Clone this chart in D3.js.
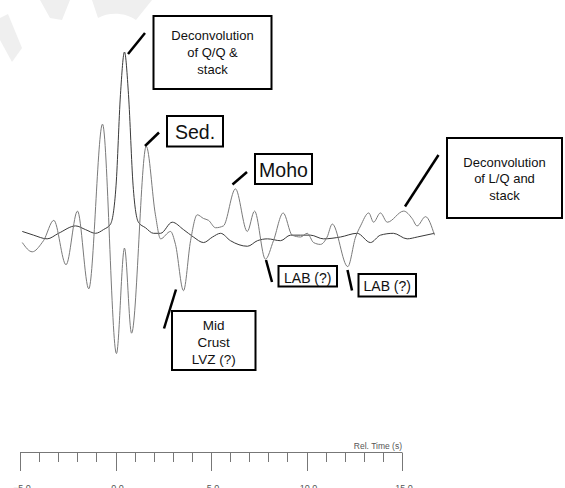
<!DOCTYPE html>
<html>
<head>
<meta charset="utf-8">
<script src="https://cdn.jsdelivr.net/npm/d3@7/dist/d3.min.js"></script>
<style>
  html, body { margin: 0; padding: 0; background: #fff; }
  svg { display: block; font-family: "Liberation Sans", Arial, sans-serif; }
</style>
</head>
<body>
<svg id="chart" width="565" height="488"></svg>
<script>
// ---- Data (time in s, normalized amplitude) ----
const lqTime = [-4.88,-4.36,-3.84,-3.77,-3.23,-2.59,-1.99,-1.40,-0.68,0.05,0.47,0.84,1.61,2.09,2.36,2.88,3.14,3.56,3.93,4.28,4.61,4.87,5.24,5.65,6.28,6.90,7.28,7.85,8.27,8.78,9.25,9.69,10.04,10.37,10.73,11.08,11.35,12.16,12.57,12.83,13.26,13.51,13.87,14.23,15.09,15.53,15.79,16.23,16.70];
const lqAmp  = [-0.03,-0.08,-0.03,-0.02,0.09,-0.15,0.14,-0.28,0.61,-0.63,-0.06,-0.52,0.49,0.12,-0.01,0.03,-0.04,-0.29,-0.02,0.12,0.10,0.09,0.05,0.06,0.26,0.03,0.14,-0.12,-0.02,0.13,0.01,0.00,0.02,-0.03,-0.04,0.00,0.07,-0.16,0.00,0.06,0.13,0.08,0.13,0.08,0.14,0.10,0.06,0.11,0.01];

const qqTime = [-4.88,-4.29,-3.58,-2.98,-2.09,-1.57,-1.05,-0.63,-0.26,0.03,0.26,0.47,0.68,0.92,1.20,1.57,1.99,2.36,2.97,3.56,4.08,4.61,5.08,5.50,6.02,6.91,7.43,7.96,8.64,9.16,9.69,10.21,10.89,11.78,12.65,13.35,13.87,14.55,15.27,15.80,16.70];
const qqAmp  = [0.03,0.01,-0.01,0.02,0.06,0.04,0.02,0.04,0.07,0.28,0.77,1.00,0.77,0.28,0.08,0.05,0.02,0.02,0.08,0.04,0.00,-0.03,0.00,0.02,-0.02,-0.05,-0.02,-0.01,-0.02,0.01,0.01,0.01,-0.01,0.00,0.02,-0.03,0.01,0.02,-0.01,0.00,0.02];

const majorTicks = [-5, 0, 5, 10, 15];
const tickLabels = ["\u22125.0", "0.0", "5.0", "10.0", "15.0"];
const minorTicks = d3.range(-5, 15.01, 1);
const axisTitle = "Rel. Time (s)";

const annotations = [
  { lines: ["Deconvolution", "of Q/Q &", "stack"], at: 0.47 },
  { lines: ["Sed."], at: 1.61 },
  { lines: ["Moho"], at: 6.28 },
  { lines: ["Deconvolution", "of L/Q and", "stack"], at: 15.09 },
  { lines: ["LAB (?)"], at: 7.85 },
  { lines: ["LAB (?)"], at: 12.16 },
  { lines: ["Mid", "Crust", "LVZ (?)"], at: 3.56 }
];

// ---- Layout (styles/positions) ----
const svg = d3.select("#chart");

// faint background watermark (decorative)
const wm = svg.append("g").attr("fill", "#efefef");
wm.append("path").attr("d", "M0,18 L8,14 L22,48 L12,62 L0,40 Z");
wm.append("path").attr("d", "M40,0 L70,0 L62,20 L50,18 Z");
wm.append("path").attr("d", "M92,0 L152,0 L136,20 C125,12 108,12 98,18 Z");

const x = d3.scaleLinear().domain([-5, 15]).range([20, 402]);
const y = d3.scaleLinear().domain([-1, 1]).range([422, 52]);

const line = d3.line().x(d => x(d[0])).y(d => y(d[1])).curve(d3.curveMonotoneX);

svg.append("path")
  .datum(qqTime.map((t, i) => [t, qqAmp[i]]))
  .attr("d", line).attr("fill", "none")
  .attr("stroke", "#3a3a3a").attr("stroke-width", 1);

svg.append("path")
  .datum(lqTime.map((t, i) => [t, lqAmp[i]]))
  .attr("d", line).attr("fill", "none")
  .attr("stroke", "#7a7a7a").attr("stroke-width", 1);

// ---- Axis ----
const axisY = 452.5;
const ax = svg.append("g").attr("transform", `translate(0,${axisY})`);
ax.append("line").attr("x1", x(-5)).attr("x2", x(15)).attr("y1", 0).attr("y2", 0)
  .attr("stroke", "#777").attr("stroke-width", 1);
ax.selectAll("line.minor").data(minorTicks).join("line")
  .attr("class", "minor")
  .attr("x1", d => Math.round(x(d)) + 0.5).attr("x2", d => Math.round(x(d)) + 0.5)
  .attr("y1", 0).attr("y2", d => (majorTicks.includes(d) ? 18.5 : 9.5))
  .attr("stroke", "#777").attr("stroke-width", 1);
ax.selectAll("text.tl").data(majorTicks).join("text")
  .attr("class", "tl")
  .attr("x", d => x(d) + 2).attr("y", 38.5)
  .attr("text-anchor", "middle")
  .attr("font-size", 9).attr("fill", "#555")
  .text((d, i) => tickLabels[i]);
ax.append("text").attr("x", x(15)).attr("y", -4)
  .attr("text-anchor", "end").attr("font-size", 8.5).attr("fill", "#555")
  .text(axisTitle);

// ---- Annotation boxes ----
const boxGeom = [
  { x0: 153.5, y0: 16, x1: 271.5, y1: 89, fs: 13, base: 40, lh: 17, lw: [145, 33, 128, 54] },
  { x0: 167, y0: 116, x1: 223, y1: 146.5, fs: 19.5, base: 138.5, lh: 0, lw: [159, 132.5, 145, 146] },
  { x0: 255, y0: 154, x1: 312, y1: 184, fs: 19.5, base: 176.5, lh: 0, lw: [247, 172, 232.5, 184.5] },
  { x0: 447, y0: 138, x1: 562, y1: 218, fs: 13, base: 166.5, lh: 16.5, lw: [438.5, 155, 405, 206.5] },
  { x0: 278.5, y0: 266, x1: 337, y1: 286.5, fs: 14, base: 282.5, lh: 0, lw: [266, 260, 272, 282] },
  { x0: 358.5, y0: 274, x1: 416, y1: 296.5, fs: 14, base: 290.5, lh: 0, lw: [347.5, 270, 352, 290.5] },
  { x0: 172, y0: 311, x1: 255.5, y1: 370, fs: 13.5, base: 329.5, lh: 17, lw: [176, 289.5, 164, 328.5] }
];

const g = svg.append("g");
annotations.forEach((a, i) => {
  const b = boxGeom[i];
  g.append("line")
    .attr("x1", b.lw[0]).attr("y1", b.lw[1]).attr("x2", b.lw[2]).attr("y2", b.lw[3])
    .attr("stroke", "#000").attr("stroke-width", 2.5);
  g.append("rect")
    .attr("x", b.x0).attr("y", b.y0).attr("width", b.x1 - b.x0).attr("height", b.y1 - b.y0)
    .attr("fill", "#fff").attr("stroke", "#000").attr("stroke-width", 2);
  a.lines.forEach((t, j) => {
    g.append("text")
      .attr("x", (b.x0 + b.x1) / 2).attr("y", b.base + j * b.lh)
      .attr("text-anchor", "middle").attr("font-size", b.fs).attr("fill", "#111")
      .text(t);
  });
});
</script>
</body>
</html>
